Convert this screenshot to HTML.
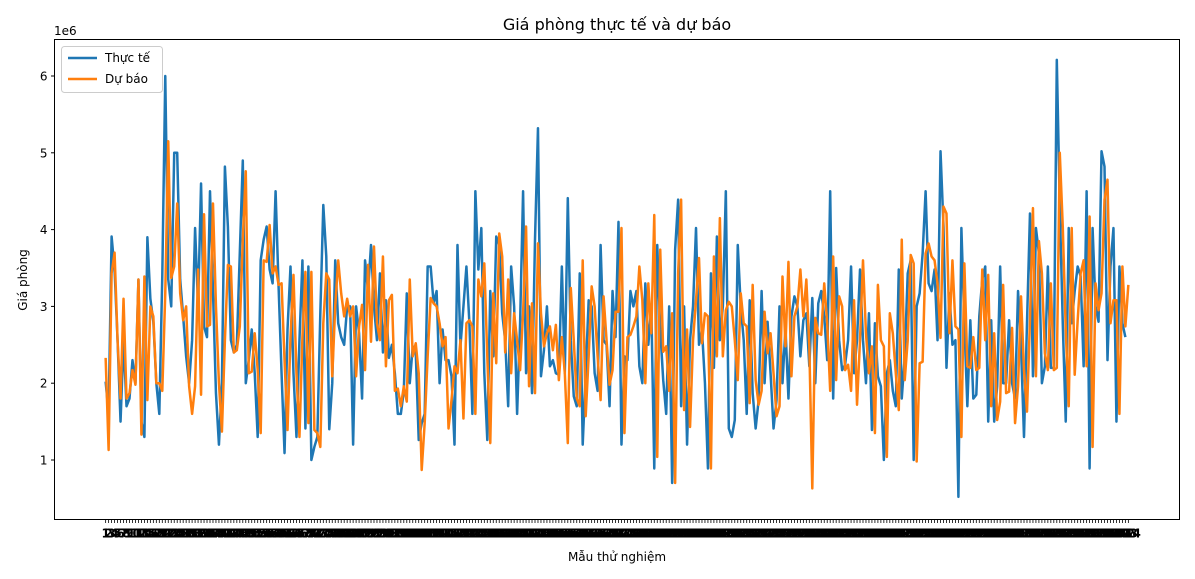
<!DOCTYPE html>
<html><head><meta charset="utf-8">
<style>
body{margin:0;background:#fff;}
svg{display:block;font-family:"DejaVu Sans","Liberation Sans",sans-serif;}
</style></head>
<body>
<svg id="chart" width="1195" height="579" viewBox="0 0 1195 579" xmlns="http://www.w3.org/2000/svg">
<rect x="0" y="0" width="1195" height="579" fill="#fff"/>
<text x="617" y="30" text-anchor="middle" font-size="16">Giá phòng thực tế và dự báo</text>
<text x="54" y="35" font-size="12">1e6</text>
<text x="27" y="280" text-anchor="middle" font-size="12" transform="rotate(-90 27 280)">Giá phòng</text>
<text x="617" y="561" text-anchor="middle" font-size="12">Mẫu thử nghiệm</text>
<g id="grid"></g>
<g id="series"></g>
<rect x="54.5" y="39.5" width="1125" height="480" fill="none" stroke="#000" stroke-width="1"/>
<g>
<rect x="61.5" y="46.5" width="101" height="46" rx="3" fill="#fff" fill-opacity="0.8" stroke="#ccc"/>
<g><line x1="68" y1="58" x2="97" y2="58" stroke="#1f77b4" stroke-width="2.5"/><text x="105" y="62" font-size="12">Thực tế</text></g>
<g><line x1="68" y1="79" x2="97" y2="79" stroke="#ff7f0e" stroke-width="2.5"/><text x="105" y="83" font-size="12">Dự báo</text></g>
</g>
</svg>
<script>
const actual = [2.02,1.6,3.91,3.48,2.56,1.5,2.56,1.7,1.8,2.3,2.0,3.35,1.5,1.3,3.9,3.1,2.8,2.0,1.6,3.4,6.0,3.35,3.0,5.0,5.0,3.35,2.87,2.35,2.0,2.56,4.02,3.0,4.6,2.74,2.6,4.5,3.2,1.87,1.2,2.0,4.82,4.04,2.56,2.4,2.5,3.7,4.9,2.0,2.3,2.7,2.13,1.3,3.6,3.87,4.04,3.48,3.3,4.5,3.26,2.13,1.09,2.7,3.52,2.13,1.3,2.56,3.6,1.41,3.52,1.0,1.17,1.3,2.91,4.32,3.65,1.4,2.0,3.6,2.78,2.6,2.5,3.0,3.0,
1.2,3.0,2.65,1.8,3.6,3.2,3.8,3.0,2.56,3.43,2.4,3.08,2.33,2.5,2.13,1.6,1.6,1.9,3.17,2.0,2.48,2.41,1.26,1.48,1.6,3.52,3.52,3.04,3.2,2.0,2.7,2.3,2.3,2.09,1.2,3.8,2.48,3.0,3.52,2.78,1.6,4.5,3.48,4.02,2.13,1.26,3.2,2.35,3.91,3.8,2.91,2.56,1.7,3.52,3.0,1.6,2.78,4.5,2.13,3.0,1.87,3.87,5.32,2.09,2.43,3.0,2.22,2.3,2.13,
2.11,3.52,2.13,4.41,2.56,1.83,1.7,3.43,1.2,2.13,3.08,3.0,2.13,1.9,3.8,2.56,2.5,1.7,3.2,2.6,4.1,1.2,2.35,2.3,3.2,3.0,3.2,2.22,2.0,3.3,2.5,3.0,0.89,3.8,2.7,2.04,1.6,3.0,0.7,3.74,4.39,1.7,3.0,1.2,2.56,3.0,4.02,2.5,2.7,2.0,0.89,3.43,2.2,3.91,2.56,3.0,4.5,1.41,1.3,1.52,3.8,3.0,2.56,1.6,3.08,1.87,1.41,1.78,3.2,2.0,2.8,2.13,1.41,1.78,3.0,2.0,2.72,1.8,2.87,3.13,3.0,2.35,2.82,
2.91,2.22,3.11,2.0,3.04,3.2,2.87,2.3,4.5,1.8,3.5,2.56,2.17,2.24,2.56,3.52,2.13,2.56,3.48,2.56,2.0,2.91,1.39,2.78,2.09,1.96,1.0,2.13,2.3,1.9,1.7,3.48,1.8,2.35,3.43,3.6,1.0,3.0,3.17,3.69,4.5,3.3,3.2,3.48,2.56,5.02,4.04,2.2,3.17,2.5,2.56,0.52,4.02,2.78,1.7,2.82,1.8,1.85,2.87,3.35,3.52,1.5,2.82,1.5,1.96,3.52,2.0,2.0,2.82,2.0,1.8,3.2,2.48,1.3,2.78,4.21,2.09,4.02,3.69,2.0,2.22,3.52,2.2,2.2,6.21,4.3,2.78,1.5,4.02,2.78,3.2,3.52,3.39,2.22,4.5,0.89,4.02,3.0,2.8,5.02,4.82,2.3,3.52,4.02,1.5,3.52,2.78,2.6];
const predicted = [2.33,1.13,3.43,3.7,2.56,1.8,3.1,1.8,1.87,2.17,1.98,3.35,1.33,3.39,1.78,3.0,2.87,2.0,2.0,1.9,3.17,5.15,3.37,3.52,4.34,3.17,2.82,3.0,1.96,1.6,1.96,3.48,1.85,4.2,2.74,2.76,4.34,3.0,2.0,1.37,2.56,3.54,3.52,2.4,2.43,2.74,3.87,4.76,2.13,2.15,2.65,2.17,1.35,3.6,3.58,4.06,3.43,3.52,3.28,3.3,2.3,1.39,2.6,3.41,2.13,1.3,2.6,3.45,1.48,3.45,1.39,1.35,1.17,2.78,3.43,3.35,2.09,3.0,3.6,3.17,2.87,3.1,2.87,3.0,
2.09,2.74,3.02,2.17,3.54,2.54,3.78,2.78,2.56,3.65,2.22,3.08,3.15,1.9,1.93,1.7,1.96,1.76,3.35,2.35,2.52,2.13,0.87,1.48,2.35,3.11,3.04,3.0,2.78,2.48,2.6,1.41,1.78,2.22,2.13,2.56,1.54,2.78,2.82,2.74,1.6,3.35,3.13,3.56,2.35,1.22,3.17,2.26,3.95,3.65,2.4,3.35,2.13,2.91,2.56,2.17,2.91,4.04,1.96,3.04,1.87,3.82,2.91,2.48,2.65,2.74,2.43,2.76,2.04,
2.6,2.13,1.22,3.24,2.56,1.8,1.7,3.6,1.57,2.35,3.26,3.0,2.35,1.78,3.13,2.56,1.98,2.17,2.93,2.93,4.02,1.35,2.6,2.63,2.74,2.87,3.52,3.08,2.0,3.3,2.65,4.19,1.04,3.74,2.41,2.48,1.9,2.91,0.7,3.43,4.39,1.65,2.7,1.43,2.56,3.08,3.63,2.52,2.91,2.87,0.89,3.65,2.35,4.15,2.35,2.95,3.06,3.0,2.56,2.04,3.17,2.78,2.74,1.74,3.28,2.04,1.72,1.9,2.93,2.39,2.65,2.13,1.57,1.7,3.39,2.48,3.58,2.09,2.87,3.0,3.48,2.87,3.35,
2.48,0.63,2.85,2.65,2.63,3.3,2.78,1.9,3.65,2.04,3.13,3.0,2.17,2.24,1.9,3.08,1.72,2.56,3.6,2.65,2.13,2.48,1.35,3.28,2.56,2.48,1.04,2.91,2.65,2.13,1.65,3.87,2.04,2.56,3.67,3.56,0.98,2.26,2.28,3.69,3.82,3.65,3.6,3.3,2.59,4.3,4.21,2.65,3.6,2.74,2.7,1.3,3.56,2.22,2.2,2.6,2.17,2.2,3.48,2.56,3.41,1.7,2.65,1.52,1.76,3.28,1.87,1.89,2.72,1.48,1.96,3.13,2.17,1.63,2.82,4.28,2.09,3.85,3.43,2.39,2.17,3.3,2.17,2.2,5.0,4.04,2.7,1.7,4.02,2.11,2.82,3.43,3.6,2.22,4.17,1.17,3.3,2.95,3.17,4.39,4.65,2.78,3.08,3.08,1.6,3.52,2.74,3.28];
const yTicks = [1,2,3,4,5,6];

const L=54.5,R=1179.5,T=39.5,B=519.5;
const n = Math.max(actual.length, predicted.length);
const pad = (n-1)*0.05;
function xs(i){return L+(i+pad)/((n-1)+2*pad)*(R-L);}
function ys(v){return 460-(v-1)*76.8;}
const NS="http://www.w3.org/2000/svg";
const grid=document.getElementById('grid');
yTicks.forEach(t=>{
  const y=ys(t);
  const ln=document.createElementNS(NS,'line');
  ln.setAttribute('x1',L-3.5);ln.setAttribute('x2',L);ln.setAttribute('y1',y);ln.setAttribute('y2',y);
  ln.setAttribute('stroke','#000');
  
  
  grid.appendChild(ln);
  const tx=document.createElementNS(NS,'text');
  tx.setAttribute('x',L-7);tx.setAttribute('y',y+4.5);tx.setAttribute('text-anchor','end');tx.setAttribute('font-size','12');
  tx.textContent=String(t);
  
  
  grid.appendChild(tx);
});
for(let i=0;i<n;i++){
  const x=xs(i);
  const ln=document.createElementNS(NS,'line');
  ln.setAttribute('x1',x);ln.setAttribute('x2',x);ln.setAttribute('y1',B);ln.setAttribute('y2',B+3.5);
  ln.setAttribute('stroke','#000');ln.setAttribute('stroke-width','0.8');
  
  
  grid.appendChild(ln);
  const tx=document.createElementNS(NS,'text');
  tx.setAttribute('x',x);tx.setAttribute('y',B+18);tx.setAttribute('text-anchor','middle');tx.setAttribute('font-size','12');
  tx.setAttribute('font-weight','bold');
  tx.textContent=String(i+1);
  
  
  grid.appendChild(tx);
}
const sg=document.getElementById('series');
function draw(arr,color,name){
  const p=document.createElementNS(NS,'polyline');
  p.setAttribute('points',arr.map((v,i)=>xs(i).toFixed(2)+','+ys(v).toFixed(2)).join(' '));
  p.setAttribute('fill','none');p.setAttribute('stroke',color);p.setAttribute('stroke-width','2.5');
  p.setAttribute('stroke-linejoin','round');
  
  
  sg.appendChild(p);
}
draw(actual,'#1f77b4','actual-line');
draw(predicted,'#ff7f0e','predicted-line');
</script>
</body></html>
